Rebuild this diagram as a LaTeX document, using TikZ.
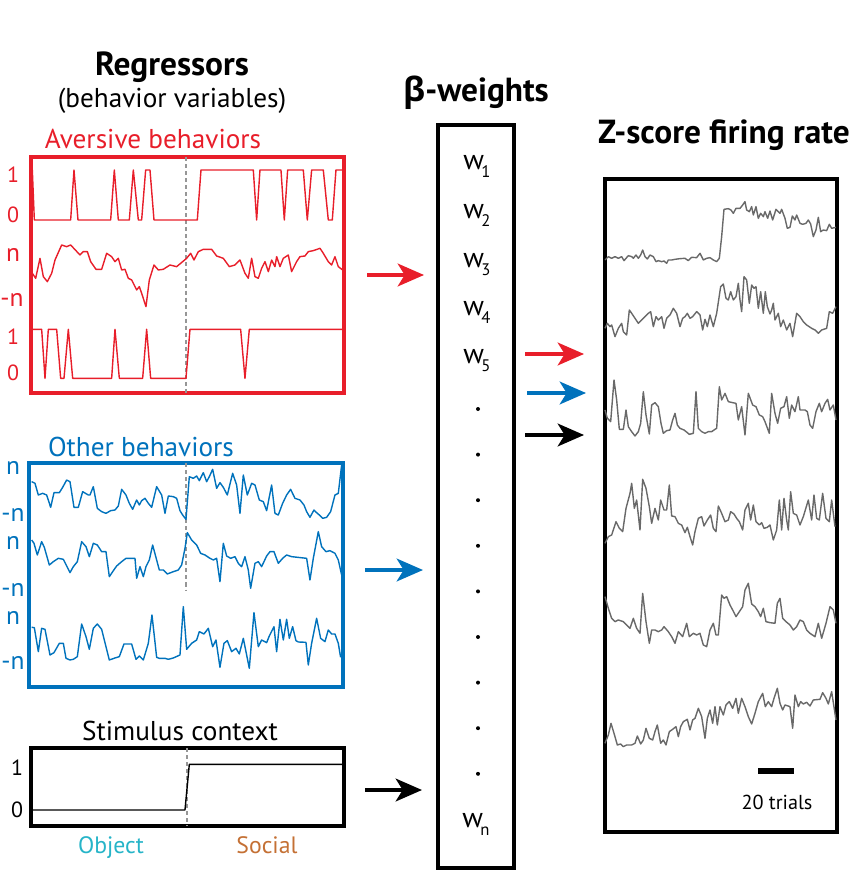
\documentclass[tikz,border=0pt]{standalone}
\usepackage{fontspec}
\setmainfont{PT Sans}
\newfontfamily\greekfont{Open Sans}
\usetikzlibrary{positioning}
\usetikzlibrary{arrows.meta}

\definecolor{avred}{RGB}{232,30,42}
\definecolor{othblue}{RGB}{0,114,188}
\definecolor{objcyan}{RGB}{38,180,200}
\definecolor{socbrown}{RGB}{196,112,52}
\definecolor{tracegray}{RGB}{105,105,105}
\definecolor{divgray}{RGB}{150,150,150}

\newcommand{\wsub}[1]{w\kern-1.5pt\raisebox{-5pt}{\fontsize{9.5}{10}\selectfont #1}}

\tikzset{
  title/.style={font=\fontsize{19}{22}\selectfont\bfseries},
  subtitle/.style={font=\fontsize{15.5}{18}\selectfont},
  grouplabel/.style={font=\fontsize{15.5}{18}\selectfont},
  contextlabel/.style={font=\fontsize{13.5}{16}\selectfont, anchor=base},
  tick/.style={font=\fontsize{12.5}{14}\selectfont, inner sep=0pt},
  ntick/.style={font=\fontsize{14.5}{16}\selectfont, inner sep=0pt},
  weight/.style={font=\fontsize{16}{18}\selectfont, anchor=base west, inner sep=0pt},
  panel/.style={line width=1.8pt},
  trace/.style={line width=0.8pt, line join=round},
  divider/.style={divgray, dash pattern=on 2.3pt off 1.7pt, line width=0.7pt},
  bigarrow/.style={line width=1.8pt, -{Stealth[length=15pt,width=13pt,inset=4pt]}},
}

\begin{document}
\begin{tikzpicture}[x=0.02cm, y=-0.02cm]
\useasboundingbox (0,0) rectangle (863,892);

% titles
\node[title] (regtitle) at (172,67) {Regressors};
\node[subtitle] (regsub) at (172,101) {(behavior variables)};
\node[title] (betatitle) at (476,93) {{\greekfont β}-weights};
\node[title] (ztitle) at (724,135) {Z-score firing rate};

% aversive behaviors
\node[grouplabel, text=avred] (avlabel) at (153,139) {Aversive behaviors};
\draw[panel, avred] (31,157) rectangle (344,393);
\draw[divider] (186,157) -- (186,393);
\node[tick, text=avred] (av1a) at (13,175) {1};
\node[tick, text=avred] (av0a) at (13,215) {0};
\node[ntick, text=avred] (avna) at (13,255) {n};
\node[ntick, text=avred] (avmna) at (12,300) {-n};
\node[tick, text=avred] (av1b) at (13,337) {1};
\node[tick, text=avred] (av0b) at (13,373) {0};
\begin{scope}[shift={(0,40)}, scale=0.3333]
  \draw[trace, avred] plot coordinates {(97,390) (103,540) (212,540) (222,390) (234,540) (332,540) (343,390) (355,540) (388,540) (400,390) (415,540) (425,540) (437,390) (450,390) (462,540) (592,540) (603,390) (760,390) (770,540) (780,390) (843,390) (853,540) (863,390) (910,390) (922,540) (935,390) (970,390) (985,540) (997,540) (1008,390) (1030,390)};
  \draw[trace, avred] plot coordinates {(97,700) (107,715) (120,655) (130,710) (142,725) (155,700) (165,660) (185,615) (200,620) (212,615) (240,645) (250,635) (262,635) (272,665) (288,688) (305,688) (320,640) (335,650) (345,665) (355,655) (365,690) (375,688) (385,715) (395,720) (410,750) (418,740) (425,760) (438,800) (448,720) (462,675) (475,690) (490,688) (510,675) (530,680) (548,665) (560,655) (572,640) (582,660) (595,635) (610,628) (635,628) (650,648) (670,655) (688,680) (705,675) (720,660) (735,700) (745,715) (755,655) (765,710) (775,715) (785,685) (795,665) (805,695) (815,660) (825,680) (830,650) (840,680) (850,655) (865,645) (875,695) (890,665) (900,650) (915,648) (925,635) (940,632) (960,625) (970,640) (985,665) (995,675) (1005,650) (1015,680) (1028,690)};
  \draw[trace, avred] plot coordinates {(97,868) (125,868) (135,1015) (145,868) (170,868) (182,1015) (192,1015) (205,868) (218,1015) (335,1015) (345,868) (358,1015) (428,1015) (440,868) (452,1015) (558,1015) (570,868) (722,868) (735,1015) (748,868) (1030,868)};
\end{scope}

% other behaviors
\node[grouplabel, text=othblue] (othlabel) at (141,447) {Other behaviors};
\draw[panel, othblue, line width=2.2pt] (29,463) rectangle (343,687);
\draw[divider] (186,463) -- (186,590);
\node[ntick, text=othblue] (othna) at (13,468) {n};
\node[ntick, text=othblue] (othmna) at (13,515) {-n};
\node[ntick, text=othblue] (othnb) at (13,543) {n};
\node[ntick, text=othblue] (othmnb) at (13,590) {-n};
\node[ntick, text=othblue] (othnc) at (13,618) {n};
\node[ntick, text=othblue] (othmnc) at (13,663) {-n};
\begin{scope}[shift={(0,430)}, scale=0.3333]
  \draw[trace, othblue] plot coordinates {(95,155) (105,160) (115,195) (128,190) (140,195) (152,232) (162,188) (178,188) (188,172) (200,150) (210,155) (222,232) (235,232) (248,185) (265,195) (270,195) (280,170) (292,235) (305,245) (318,250) (332,242) (345,240) (355,228) (365,178) (378,195) (388,220) (398,238) (410,210) (418,225) (425,212) (435,205) (445,220) (455,232) (470,170) (485,195) (495,250) (505,198) (520,200) (530,205) (540,242) (548,255) (558,268) (568,140) (580,145) (590,138) (598,152) (610,128) (620,155) (628,140) (638,118) (650,175) (660,158) (670,172) (682,195) (698,130) (710,165) (720,250) (730,135) (742,195) (755,160) (765,165) (778,210) (790,215) (800,242) (815,165) (825,250) (835,255) (848,220) (860,195) (872,178) (885,205) (900,210) (912,225) (920,245) (930,262) (942,240) (950,248) (958,255) (968,265) (980,262) (992,245) (1005,195) (1015,190) (1025,105)};
  \draw[trace, othblue] plot coordinates {(95,330) (102,340) (112,375) (125,335) (133,352) (148,405) (160,395) (175,385) (190,388) (210,428) (220,410) (232,395) (245,335) (258,350) (268,380) (280,340) (292,345) (305,365) (318,365) (328,440) (338,425) (350,408) (365,395) (378,385) (405,385) (410,445) (420,410) (430,440) (438,410) (448,390) (458,345) (470,390) (478,420) (490,420) (502,432) (520,425) (535,420) (545,405) (555,355) (562,308) (575,330) (590,345) (602,370) (615,375) (630,385) (640,390) (650,385) (660,455) (670,340) (680,378) (692,385) (705,380) (715,400) (725,410) (735,380) (745,420) (752,475) (765,400) (775,395) (785,410) (800,378) (810,365) (822,365) (835,400) (848,385) (860,375) (875,380) (920,385) (930,450) (940,385) (955,305) (965,350) (978,365) (990,362) (1005,370) (1015,390) (1025,435)};
  \draw[trace, othblue] plot coordinates {(95,592) (103,593) (115,665) (125,595) (135,598) (150,675) (162,668) (178,640) (190,640) (198,685) (210,690) (220,688) (232,680) (245,582) (258,620) (268,658) (280,595) (292,582) (305,598) (318,650) (328,690) (345,684) (358,680) (372,642) (395,642) (408,688) (418,678) (430,690) (445,640) (456,555) (470,682) (478,685) (495,685) (505,688) (520,684) (540,675) (550,530) (560,658) (575,640) (590,630) (598,605) (612,612) (625,595) (638,650) (648,630) (660,712) (672,640) (682,632) (695,665) (708,655) (718,672) (730,625) (748,715) (762,548) (775,650) (785,630) (800,638) (808,618) (822,590) (830,665) (840,568) (850,630) (860,568) (868,625) (878,590) (888,632) (895,636) (918,637) (925,705) (935,640) (950,565) (962,625) (975,635) (985,600) (995,612) (1005,612) (1015,640) (1022,682)};
\end{scope}

% stimulus context
\node[grouplabel] (stimlabel) at (180,731) {Stimulus context};
\draw[panel] (31,748) rectangle (344,826);
\draw[divider] (187,748) -- (187,826);
\node[tick] (stim1) at (17,768) {1};
\node[tick] (stim0) at (17,810) {0};
\begin{scope}[shift={(0,700)}, scale=0.3333]
  \draw[trace] plot coordinates {(97,330) (555,330) (568,193) (1030,193)};
\end{scope}
\node[contextlabel, text=objcyan] (objlabel) at (111,853) {Object};
\node[contextlabel, text=socbrown] (soclabel) at (267,853) {Social};

% beta weights
\draw[panel] (438,125) rectangle (514,868);
\node[weight] (w1) at (463,169) {\wsub{1}};
\node[weight] (w2) at (463,218) {\wsub{2}};
\node[weight] (w3) at (463,267) {\wsub{3}};
\node[weight] (w4) at (463,315) {\wsub{4}};
\node[weight] (w5) at (463,363) {\wsub{5}};
\foreach \i in {0,...,8}
  \fill (478,409+45.6*\i) circle (2);
\node[weight] (wn) at (462,827) {\wsub{n}};

% arrows into the weights
\coordinate (avstart) at (367,275);
\coordinate (avend) at (424,275);
\coordinate (othstart) at (365,570);
\coordinate (othend) at (423,570);
\coordinate (stimstart) at (365,790);
\coordinate (stimend) at (422,790);
\draw[bigarrow, avred] (avstart) -- (avend);
\draw[bigarrow, othblue] (othstart) -- (othend);
\draw[bigarrow] (stimstart) -- (stimend);

% arrows out to the firing rate
\coordinate (avout) at (525,354);
\coordinate (avfr) at (584,354);
\coordinate (othout) at (527,393);
\coordinate (othfr) at (586,393);
\coordinate (stimout) at (525,435);
\coordinate (stimfr) at (584,435);
\draw[bigarrow, avred] (avout) -- (avfr);
\draw[bigarrow, othblue] (othout) -- (othfr);
\draw[bigarrow] (stimout) -- (stimfr);

% z-score firing rate
\draw[panel] (605,179) rectangle (837,832);
\begin{scope}[shift={(600,110)}, scale=0.3333]
  \draw[trace, tracegray] plot coordinates {(15,450) (25,440) (35,445) (45,440) (55,445) (65,440) (72,452) (85,437) (95,440) (100,445) (108,435) (115,445) (122,435) (128,420) (135,440) (142,447) (150,435) (160,440) (168,455) (175,452) (185,455) (192,453) (200,460) (205,450) (215,450) (225,448) (240,446) (255,445) (265,452) (275,442) (290,443) (300,430) (310,450) (320,445) (330,443) (340,450) (350,455) (358,445) (365,380) (372,298) (385,296) (393,300) (400,310) (408,295) (420,295) (428,285) (435,275) (440,300) (448,305) (455,290) (460,315) (468,290) (475,325) (482,310) (490,320) (495,305) (503,325) (510,303) (518,330) (528,298) (540,310) (545,298) (555,325) (562,355) (570,352) (577,318) (585,330) (590,315) (600,340) (608,343) (618,340) (625,330) (632,342) (640,380) (648,360) (655,322) (662,365) (670,360) (680,362) (688,343) (695,355) (708,352)};
  \draw[trace, tracegray] plot coordinates {(15,655) (22,640) (30,650) (35,645) (45,680) (55,655) (65,640) (70,665) (80,675) (88,600) (95,610) (105,625) (115,640) (125,630) (135,620) (145,610) (152,605) (160,650) (168,620) (175,630) (185,620) (192,655) (200,625) (210,615) (220,595) (230,610) (240,650) (248,625) (255,620) (262,610) (270,625) (278,620) (290,605) (300,615) (308,660) (315,628) (322,650) (330,615) (340,650) (350,610) (362,530) (370,522) (378,565) (385,570) (392,545) (400,570) (408,560) (415,520) (420,570) (425,605) (432,500) (440,510) (448,580) (455,525) (462,535) (468,530) (475,595) (482,545) (490,610) (496,545) (502,590) (510,612) (515,600) (520,580) (525,630) (535,610) (542,650) (550,630) (560,660) (570,640) (578,680) (590,610) (600,620) (610,635) (620,645) (635,655) (645,660) (655,670) (665,660) (680,655) (688,605) (698,610) (708,590)};
\end{scope}
\begin{scope}[shift={(600,340)}, scale=0.3333]
  \draw[trace, tracegray] plot coordinates {(15,210) (22,235) (32,245) (42,120) (50,180) (58,268) (70,268) (78,210) (85,260) (95,275) (105,288) (115,275) (122,250) (130,155) (138,225) (148,282) (155,195) (165,188) (175,200) (183,250) (190,280) (200,272) (210,270) (218,240) (225,220) (232,255) (240,265) (252,270) (262,278) (268,283) (280,280) (288,155) (295,265) (305,275) (315,280) (325,275) (335,275) (345,268) (350,265) (358,140) (365,180) (375,160) (385,185) (398,188) (408,190) (415,240) (425,200) (435,285) (445,160) (458,195) (468,200) (478,225) (488,230) (495,245) (508,280) (515,160) (525,220) (533,250) (542,205) (552,200) (560,170) (568,235) (575,195) (585,215) (595,170) (600,210) (615,210) (622,215) (630,255) (638,265) (648,215) (658,190) (665,215) (675,190) (683,178) (690,210) (700,195) (708,240)};
\end{scope}
\begin{scope}[shift={(600,450)}, scale=0.3333]
  \draw[trace, tracegray] plot coordinates {(15,280) (25,260) (35,255) (48,215) (58,235) (68,245) (78,175) (90,130) (95,100) (103,175) (110,150) (120,240) (128,88) (138,115) (148,170) (155,220) (165,175) (175,210) (182,150) (192,180) (200,180) (208,105) (215,198) (225,200) (235,220) (245,225) (255,248) (262,232) (270,260) (278,285) (285,245) (295,205) (305,200) (312,228) (322,210) (332,195) (340,235) (348,245) (355,168) (365,190) (375,215) (385,210) (392,185) (402,192) (410,205) (418,215) (428,240) (435,180) (445,160) (452,210) (460,165) (468,215) (478,225) (485,218) (492,235) (502,232) (510,225) (520,270) (530,240) (538,150) (545,240) (552,145) (560,210) (565,240) (572,125) (580,190) (590,195) (600,225) (610,200) (625,150) (635,210) (642,135) (650,205) (658,210) (668,130) (678,205) (688,215) (695,150) (705,230)};
  \draw[trace, tracegray] plot coordinates {(15,440) (25,475) (35,505) (45,515) (55,510) (70,515) (80,525) (90,535) (100,505) (110,535) (120,550) (128,430) (138,515) (148,580) (155,540) (165,540) (175,545) (185,540) (192,530) (205,545) (215,560) (225,580) (235,545) (248,560) (260,520) (268,560) (280,550) (290,555) (300,550) (310,585) (320,590) (330,540) (340,520) (348,555) (355,555) (365,435) (372,445) (380,440) (390,465) (398,480) (408,500) (418,485) (428,470) (435,420) (445,400) (455,462) (465,470) (475,485) (482,500) (490,475) (498,515) (510,518) (525,520) (532,460) (540,445) (548,505) (558,515) (570,525) (580,540) (590,530) (600,510) (610,515) (620,540) (630,550) (645,560) (655,520) (665,565) (678,520) (690,470) (700,480) (708,520)};
  \draw[trace, tracegray] plot coordinates {(15,880) (25,855) (33,820) (42,850) (52,885) (62,882) (70,890) (80,885) (95,885) (105,880) (112,858) (122,882) (130,870) (138,835) (148,865) (158,870) (165,845) (172,825) (182,880) (190,870) (198,885) (208,845) (218,838) (228,830) (235,860) (242,830) (250,815) (262,808) (270,840) (278,810) (285,805) (295,775) (305,800) (315,865) (322,805) (330,780) (338,820) (345,770) (352,825) (360,770) (370,795) (378,765) (388,755) (398,775) (408,745) (415,790) (425,745) (435,770) (445,800) (455,822) (465,790) (475,755) (488,730) (496,770) (505,755) (515,770) (522,745) (532,715) (540,760) (548,780) (555,765) (570,770) (578,835) (585,735) (595,770) (602,755) (610,762) (620,757) (630,768) (640,750) (660,748) (668,728) (678,745) (685,762) (695,725) (708,810)};
\end{scope}
\fill (758,768) rectangle (794,774);
\node[font=\fontsize{11.5}{13}\selectfont] (scalelabel) at (777,802) {20 trials};

\end{tikzpicture}
\end{document}
